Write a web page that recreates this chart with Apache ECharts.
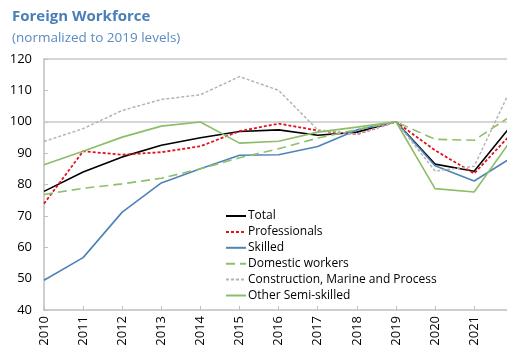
<!DOCTYPE html>
<html>
<head>
<meta charset="utf-8">
<script src="https://cdn.jsdelivr.net/npm/echarts@6/dist/echarts.min.js"></script>
<style>
  html, body { margin: 0; padding: 0; background: #fff; }
  #chart { width: 507px; height: 352px; }
</style>
</head>
<body>
<div id="chart"></div>
<script>
// Foreign workforce by occupation group, indexed to 2019 = 100
const years = [2010, 2011, 2012, 2013, 2014, 2015, 2016, 2017, 2018, 2019, 2020, 2021, 2022];
const total         = [77.8, 84.0, 88.8, 92.5, 94.9, 96.9, 97.4, 95.7, 96.7, 100, 86.5, 84.2, 99.6];
const professionals = [73.9, 90.6, 89.5, 90.3, 92.2, 97.0, 99.4, 97.2, 96.0, 100, 90.9, 83.5, 96.8];
const skilled       = [49.5, 56.7, 71.2, 80.5, 85.0, 89.3, 89.5, 92.1, 97.4, 100, 86.0, 81.1, 88.9];
const domestic      = [76.8, 78.8, 80.2, 82.0, 85.0, 88.5, 91.4, 94.8, 97.5, 100, 94.4, 94.1, 102.3];
const construction  = [93.7, 97.8, 103.6, 107.1, 108.6, 114.4, 110.0, 97.4, 96.0, 100, 84.3, 85.8, 112.1];
const otherSemi     = [86.3, 90.6, 95.1, 98.6, 99.9, 93.2, 93.8, 96.7, 98.3, 100, 78.7, 77.6, 95.1];
const yTicks = [40, 50, 60, 70, 80, 90, 100, 110, 120];

const FONT = '"Open Sans", "Noto Sans", sans-serif';
const toPairs = arr => years.map((y, i) => [y, arr[i]]);

function line(name, data, color, width, type) {
  return {
    name: name,
    type: 'line',
    data: toPairs(data),
    symbol: 'none',
    clip: true,
    lineStyle: { color: color, width: width, type: type },
    itemStyle: { color: color },
    emphasis: { disabled: true },
    z: 3
  };
}

const series = [
  line('Total', total, '#000000', 1.6, 'solid'),
  line('Professionals', professionals, '#e0141e', 1.8, [3, 2]),
  line('Skilled', skilled, '#4f82b8', 1.6, 'solid'),
  line('Domestic workers', domestic, '#8dc06c', 1.6, [9, 5]),
  line('Construction, Marine and Process', construction, '#b4b4b4', 1.5, [3, 2]),
  line('Other Semi-skilled', otherSemi, '#8dbd66', 1.6, 'solid')
];
// reference level at 100
series[0].markLine = {
  silent: true,
  symbol: 'none',
  label: { show: false },
  lineStyle: { color: '#c8c8c8', width: 1.5, type: 'solid' },
  data: [{ yAxis: 100 }],
  z: 1
};

const chart = echarts.init(document.getElementById('chart'));
chart.setOption({
  animation: false,
  backgroundColor: '#ffffff',
  title: [
    { text: 'Foreign Workforce', left: 12, top: 9, padding: 0,
      textStyle: { fontFamily: FONT, fontSize: 15, fontWeight: 'bold', color: '#4a7eb6' } },
    { text: '(normalized to 2019 levels)', left: 12, top: 31, padding: 0,
      textStyle: { fontFamily: FONT, fontSize: 13.5, fontWeight: 'normal', color: '#5b8cc0' } }
  ],
  legend: {
    orient: 'vertical',
    left: 225,
    top: 209,
    padding: 0,
    itemWidth: 20,
    itemHeight: 14,
    itemGap: 1.9,
    itemStyle: { opacity: 0 },
    textStyle: { fontFamily: FONT, fontSize: 12, color: '#000', padding: [0, 0, 0, -3], lineHeight: 14 },
    data: series.map(s => s.name)
  },
  grid: { left: 44, right: 0, top: 59, bottom: 42 },
  xAxis: [
    {
      type: 'value',
      min: 2010,
      max: 2021.84,
      interval: 1,
      axisLine: { show: true, lineStyle: { color: '#bfbfbf', width: 1.5 } },
      axisTick: { show: true, inside: true, length: 4, lineStyle: { color: '#bfbfbf' } },
      splitLine: { show: false },
      axisLabel: {
        rotate: 90,
        margin: 6,
        showMaxLabel: false,
        fontFamily: FONT, fontSize: 13, color: '#000',
        formatter: v => (Number.isInteger(v) ? String(v) : '')
      }
    },
    {
      type: 'value',
      position: 'top',
      min: 2010,
      max: 2021.84,
      axisLine: { show: true, lineStyle: { color: '#c8c8c8', width: 1.5 } },
      axisTick: { show: false },
      axisLabel: { show: false },
      splitLine: { show: false }
    }
  ],
  yAxis: {
    type: 'value',
    min: yTicks[0],
    max: yTicks[yTicks.length - 1],
    interval: 10,
    axisLine: { show: true, lineStyle: { color: '#bfbfbf', width: 1.5 } },
    axisTick: { show: true, inside: true, length: 4, lineStyle: { color: '#bfbfbf' } },
    splitLine: { show: false },
    axisLabel: { margin: 12, fontFamily: FONT, fontSize: 13, color: '#000' }
  },
  series: series
});
</script>
</body>
</html>
